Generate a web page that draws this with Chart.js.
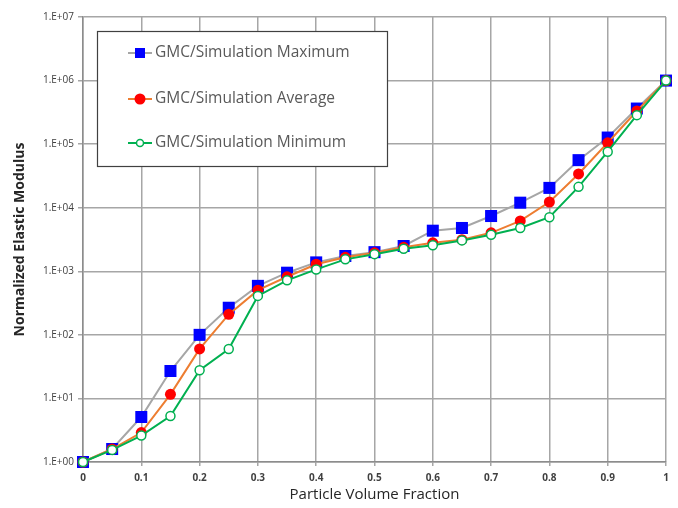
<!DOCTYPE html>
<html>
<head>
<meta charset="utf-8">
<script src="https://cdn.jsdelivr.net/npm/chart.js@4/dist/chart.umd.min.js"></script>
<style>
  html, body { margin: 0; padding: 0; background: #fff; }
  #wrap { width: 678px; height: 508px; }
</style>
</head>
<body>
<div id="wrap"><canvas id="modulusChart" width="678" height="508"></canvas></div>
<script>
// particle volume fraction (x)
const fractions = [0, 0.05, 0.1, 0.15, 0.2, 0.25, 0.3, 0.35, 0.4, 0.45, 0.5,
    0.55, 0.6, 0.65, 0.7, 0.75, 0.8, 0.85, 0.9, 0.95, 1];

// normalized elastic modulus
const maxValues = [1, 1.6, 5.1, 27, 100, 267, 590, 950, 1380, 1740, 2000,
    2500, 4350, 4800, 7400, 12000, 20500, 56000, 127000, 363000, 1000000];
const avgValues = [1, 1.6, 2.9, 11.6, 60, 210, 505, 820, 1290, 1660, 1950,
    2380, 2800, 3140, 4030, 6200, 12300, 34000, 105000, 332000, 1000000];
const minValues = [1, 1.55, 2.6, 5.3, 27.7, 60, 410, 720, 1070, 1540, 1860,
    2260, 2560, 3060, 3750, 4790, 7100, 21300, 76000, 286000, 1000000];

const yTicks = [1, 10, 100, 1000, 10000, 100000, 1000000, 10000000];
const seriesNames = [
    "GMC/Simulation Maximum",
    "GMC/Simulation Average",
    "GMC/Simulation Minimum",
];

const toPoints = (vals) => fractions.map((f, i) => ({ x: f, y: vals[i] }));

// legend box drawn inside the plot area, like the original
const boxLegend = {
    id: "boxLegend",
    afterDraw(chart) {
        const ctx = chart.ctx;
        const x0 = 97, y0 = 31, w = 290, h = 135;
        ctx.save();
        ctx.fillStyle = "#ffffff";
        ctx.fillRect(x0, y0, w, h);
        ctx.strokeStyle = "#404040";
        ctx.lineWidth = 1.2;
        ctx.strokeRect(x0 + 0.5, y0 + 0.5, w, h);

        const rows = [53, 99, 143];
        chart.data.datasets.forEach((ds, i) => {
            const y = rows[i];
            ctx.strokeStyle = ds.borderColor;
            ctx.lineWidth = 2;
            ctx.beginPath();
            ctx.moveTo(128, y);
            ctx.lineTo(152, y);
            ctx.stroke();

            const cx = 140;
            ctx.fillStyle = ds.pointBackgroundColor;
            ctx.strokeStyle = ds.pointBorderColor;
            ctx.lineWidth = ds.pointBorderWidth;
            if (ds.pointStyle === "rect") {
                ctx.fillRect(cx - 5, y - 5, 10, 10);
            } else {
                ctx.beginPath();
                ctx.arc(cx, y, i === 2 ? 3.5 : 4.5, 0, Math.PI * 2);
                ctx.fill();
                ctx.stroke();
            }

            ctx.fillStyle = "#595959";
            ctx.font = "15.5px 'Open Sans', sans-serif";
            ctx.textBaseline = "middle";
            ctx.textAlign = "left";
            ctx.fillText(seriesNames[i], 155, y);
        });
        ctx.restore();
    },
};

new Chart(document.getElementById("modulusChart"), {
    type: "line",
    data: {
        datasets: [
            {
                label: seriesNames[0],
                data: toPoints(maxValues),
                borderColor: "#a6a6a6",
                borderWidth: 2,
                pointStyle: "rect",
                pointRadius: 8.5,
                pointBackgroundColor: "#0000ff",
                pointBorderColor: "#0000ff",
                pointBorderWidth: 0,
                clip: false,
                order: 2,
            },
            {
                label: seriesNames[1],
                data: toPoints(avgValues),
                borderColor: "#ed7d31",
                borderWidth: 2,
                pointStyle: "circle",
                pointRadius: 5.5,
                pointBackgroundColor: "#ff0000",
                pointBorderColor: "#ff0000",
                pointBorderWidth: 0,
                clip: false,
                order: 1,
            },
            {
                label: seriesNames[2],
                data: toPoints(minValues),
                borderColor: "#00b050",
                borderWidth: 2,
                pointStyle: "circle",
                pointRadius: 4.5,
                pointBackgroundColor: "#ffffff",
                pointBorderColor: "#00b050",
                pointBorderWidth: 1.5,
                clip: false,
                order: 0,
            },
        ],
    },
    options: {
        responsive: false,
        animation: false,
        layout: { padding: { left: 0, right: 12, top: 17, bottom: 0 } },
        plugins: {
            legend: { display: false },
            tooltip: { enabled: false },
        },
        scales: {
            x: {
                type: "linear",
                min: 0,
                max: 1,
                afterFit: (scale) => { scale.height = 46; },
                ticks: {
                    stepSize: 0.1,
                    color: "#404040",
                    font: { family: "'Open Sans', sans-serif", size: 10, weight: "bold" },
                    padding: 6,
                    callback: (v) => String(+v.toFixed(1)),
                },
                grid: { color: "#a6a6a6", lineWidth: 1.5, tickLength: 4 },
                border: { color: "#8c8c8c", width: 1.5 },
                title: {
                    display: true,
                    text: "Particle Volume Fraction",
                    color: "#262626",
                    font: { family: "'Open Sans', sans-serif", size: 15 },
                    padding: { top: 4 },
                },
            },
            y: {
                type: "logarithmic",
                min: 1,
                max: 10000000,
                afterFit: (scale) => { scale.width = 83; },
                afterBuildTicks: (scale) => {
                    scale.ticks = yTicks.map((v) => ({ value: v, major: true }));
                },
                ticks: {
                    color: "#404040",
                    font: { family: "'Open Sans', sans-serif", size: 10 },
                    padding: 4,
                    autoSkip: false,
                    callback: (v) => "1.E+" + String(Math.round(Math.log10(v))).padStart(2, "0"),
                },
                grid: { color: "#a6a6a6", lineWidth: 1.5, tickLength: 5 },
                border: { color: "#8c8c8c", width: 1.5 },
                title: {
                    display: true,
                    text: "Normalized Elastic Modulus",
                    color: "#262626",
                    font: { family: "'Open Sans', sans-serif", size: 14, weight: "bold" },
                    padding: { top: 12, bottom: 0 },
                },
            },
        },
    },
    plugins: [boxLegend],
});
</script>
</body>
</html>
